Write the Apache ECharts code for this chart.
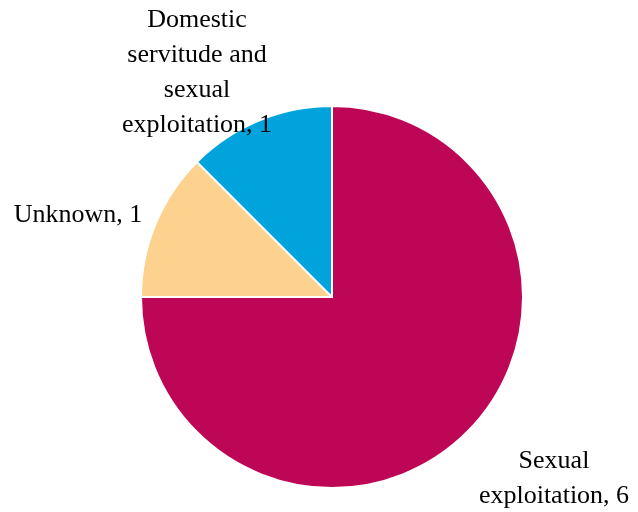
<!DOCTYPE html>
<html>
<head>
<meta charset="utf-8">
<script src="https://cdn.jsdelivr.net/npm/echarts@6/dist/echarts.min.js"></script>
<style>
  html, body { margin: 0; padding: 0; background: #fff; }
  #chart { width: 638px; height: 512px; }
</style>
</head>
<body>
<div id="chart"></div>
<script>
// data
var categories = ['Sexual exploitation', 'Unknown', 'Domestic servitude and sexual exploitation'];
var values = [6, 1, 1];
var labelTexts = ['Sexual\nexploitation, 6', 'Unknown, 1', 'Domestic\nservitude and\nsexual\nexploitation, 1'];
var colors = ['#be0656', '#fdd28e', '#00a3dc'];

// where each label sits (outside the pie)
var labelPos = [[554, 479], [78, 215], [197, 73]];

var myChart = echarts.init(document.getElementById('chart'));

var option = {
    animation: false,
    color: colors,
    series: [
        {
            type: 'pie',
            center: [332, 297],
            radius: 191,
            startAngle: 90,
            clockwise: true,
            itemStyle: {
                borderColor: '#fff',
                borderWidth: 2
            },
            label: {
                show: true,
                position: 'outside',
                fontFamily: 'Liberation Serif',
                fontSize: 26,
                lineHeight: 35,
                color: '#000',
                align: 'center',
                overflow: 'none',
                formatter: function (p) { return labelTexts[p.dataIndex]; }
            },
            labelLine: { show: false },
            labelLayout: function (params) {
                var pos = labelPos[params.dataIndex];
                return { x: pos[0], y: pos[1], align: 'center', verticalAlign: 'middle' };
            },
            data: categories.map(function (c, i) {
                return { name: c, value: values[i] };
            })
        }
    ]
};

myChart.setOption(option);
</script>
</body>
</html>
